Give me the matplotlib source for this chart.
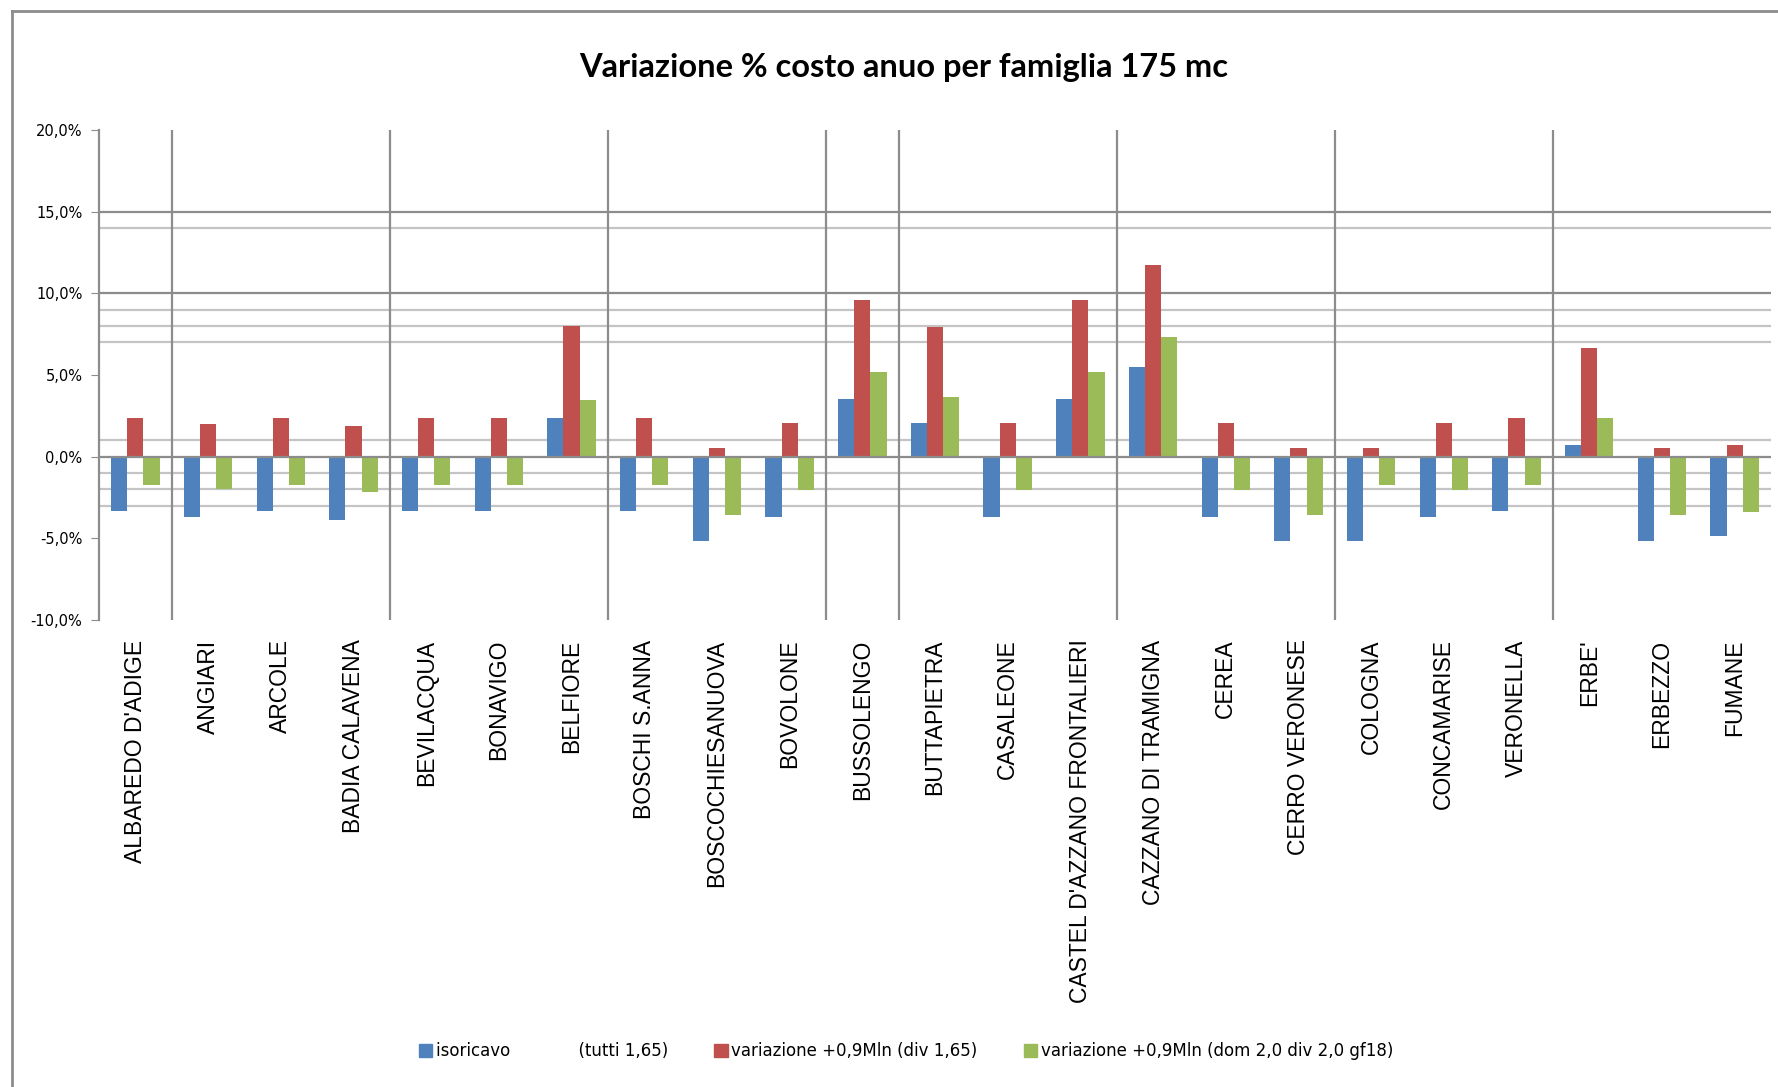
import matplotlib
matplotlib.use('Agg')
import matplotlib.pyplot as plt
import numpy as np
from matplotlib.lines import Line2D
from matplotlib.patches import Patch

# Comuni e variazioni %
comuni = ["ALBAREDO D'ADIGE", "ANGIARI", "ARCOLE", "BADIA CALAVENA", "BEVILACQUA",
          "BONAVIGO", "BELFIORE", "BOSCHI S.ANNA", "BOSCOCHIESANUOVA", "BOVOLONE",
          "BUSSOLENGO", "BUTTAPIETRA", "CASALEONE", "CASTEL D'AZZANO FRONTALIERI",
          "CAZZANO DI TRAMIGNA", "CEREA", "CERRO VERONESE", "COLOGNA", "CONCAMARISE",
          "VERONELLA", "ERBE'", "ERBEZZO", "FUMANE"]

isoricavo = [-3.35, -3.7, -3.35, -3.85, -3.35, -3.35, 2.36, -3.35, -5.15, -3.7,
             3.53, 2.05, -3.7, 3.53, 5.5, -3.7, -5.15, -5.15, -3.7, -3.35,
             0.74, -5.15, -4.85]
var_div = [2.36, 2.03, 2.36, 1.85, 2.36, 2.36, 8.02, 2.36, 0.56, 2.05,
           9.6, 7.95, 2.05, 9.6, 11.75, 2.05, 0.56, 0.56, 2.05, 2.36,
           6.65, 0.56, 0.74]
var_dom = [-1.72, -2.0, -1.72, -2.18, -1.72, -1.72, 3.47, -1.72, -3.55, -2.02,
           5.16, 3.68, -2.02, 5.16, 7.3, -2.02, -3.55, -1.72, -2.02, -1.72,
           2.36, -3.55, -3.38]

serie_labels = ["isoricavo             (tutti 1,65)",
                "variazione +0,9Mln (div 1,65)",
                "variazione +0,9Mln (dom 2,0 div 2,0 gf18)"]
colori = ['#4F81BD', '#C0504D', '#9BBB59']

y_ticks = [-10, -5, 0, 5, 10, 15, 20]
griglia_scura = [15, 10]
griglia_chiara = [14, 9, 8, 7, 1, -1, -2, -3]
separatori = [0, 3, 6, 9, 10, 13, 16, 19]

fig = plt.figure(figsize=(17.78, 10.87), dpi=100)
ax = fig.add_axes([99/1778, 1 - 620/1087, (1771-99)/1778, (620-130)/1087])

x = np.arange(len(comuni))
w = 0.222
for k, (vals, c, lab) in enumerate(zip([isoricavo, var_div, var_dom], colori, serie_labels)):
    ax.bar(x + (k - 1) * w, vals, width=w, color=c, label=lab, zorder=3)

for g in griglia_scura:
    ax.axhline(g, color='#8c8c8c', lw=1.6, zorder=1)
for g in griglia_chiara:
    ax.axhline(g, color='#c4c4c4', lw=1.6, zorder=1)
ax.axhline(0, color='#8c8c8c', lw=1.6, zorder=4)
for s in separatori:
    ax.axvline(s + 0.5, color='#8c8c8c', lw=1.6, zorder=1)

ax.set_xlim(-0.5, len(comuni) - 0.5)
ax.set_ylim(-10, 20)
ax.set_yticks(y_ticks)
ax.set_yticklabels([f"{v:.1f}%".replace('.', ',') for v in y_ticks], fontsize=10.5)
ax.tick_params(axis='y', length=6, color='#8c8c8c', pad=6)
ax.set_xticks(x)
ax.set_xticklabels(comuni, rotation=90, fontsize=16.5, family=['Liberation Sans', 'DejaVu Sans'])
ax.tick_params(axis='x', length=0, pad=14)

for side in ['top', 'right', 'bottom']:
    ax.spines[side].set_visible(False)
ax.spines['left'].set_color('#8c8c8c')
ax.spines['left'].set_linewidth(1.6)

fig.text(904/1778, 1 - 68/1087, "Variazione % costo anuo per famiglia 175 mc",
         ha='center', va='center', fontsize=23.5, fontweight='bold',
         family=['Lato', 'DejaVu Sans'])

handles = [Patch(color=c) for c in colori]
fig.legend(handles, serie_labels, loc='center', bbox_to_anchor=(906/1778, 1 - 1051/1087),
           ncol=3, frameon=False, fontsize=12, handlelength=0.8, handleheight=0.8,
           handletextpad=0.2, columnspacing=2.8)

# cornice dell'area grafico (solo lato sinistro e superiore visibili)
fig.add_artist(Line2D([12/1778, 1], [1 - 11/1087, 1 - 11/1087], color='#8c8c8c', lw=2))
fig.add_artist(Line2D([12/1778, 12/1778], [0, 1 - 11/1087], color='#8c8c8c', lw=2))

plt.savefig('out.png', dpi=100)
